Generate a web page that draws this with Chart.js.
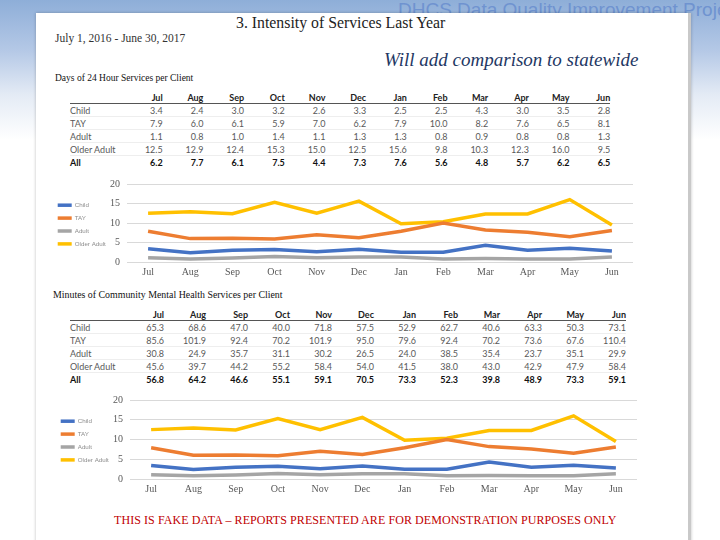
<!DOCTYPE html>
<html>
<head>
<meta charset="utf-8">
<script src="https://cdn.jsdelivr.net/npm/chart.js@4.4.0/dist/chart.umd.min.js"></script>
<style>
    html, body { margin: 0; padding: 0; }
    body {
        width: 720px; height: 540px; overflow: hidden; position: relative;
        background: linear-gradient(to bottom, #8eaed8 0px, #b4c8e6 50px, #e4ebf5 95px, #ffffff 140px);
        font-family: "Liberation Serif", "DejaVu Serif", serif;
    }
    .banner {
        position: absolute; left: 398px; top: -1px; font-family: "Liberation Sans", sans-serif;
        font-size: 19px; color: #6f93d0; white-space: nowrap;
    }
    .panel {
        position: absolute; left: 36px; top: 13px; width: 652px; height: 540px;
        background: #fff; border-right: 3px solid #c9c9c9; box-shadow: 0 0 3px rgba(0,0,0,0.25);
    }
    .txt { position: absolute; white-space: nowrap; }
    table.datos {
        position: absolute; border-collapse: collapse; font-family: "Lato", "Liberation Sans", sans-serif;
        font-size: 9px; color: #595959; table-layout: fixed;
    }
    table.datos th { font-weight: bold; color: #222; text-align: right; padding: 0; height: 12px; border-bottom: 1px solid #555; }
    table.datos td { text-align: right; padding: 0; height: 12px; border-bottom: 1px solid #eee; }
    table.datos td.lbl, table.datos th.lbl { text-align: left; }
    table.datos tr.all td { font-weight: bold; color: #111; border-bottom: none; }
    .chart { position: absolute; }
</style>
</head>
<body>
<div class="banner">DHCS Data Quality Improvement Project</div>
<div class="panel"></div>
<div class="txt" style="left:236px; top:14px; font-size:15.8px; color:#222;">3. Intensity of Services Last Year</div>
<div class="txt" style="left:55px; top:32px; font-size:11.5px; color:#333;">July 1, 2016 - June 30, 2017</div>
<div class="txt" style="left:384px; top:49px; font-size:19px; font-style:italic; color:#1f3864;">Will add comparison to statewide</div>
<div class="txt" style="left:55px; top:73px; font-size:9.5px; color:#111;">Days of 24 Hour Services per Client</div>
<table class="datos" id="tabla1" style="left:70px; top:91px;"></table>
<div class="chart" style="left:51px; top:171px; width:589px; height:111px;"><canvas id="chart1"></canvas></div>
<div class="txt" style="left:53px; top:289px; font-size:9.9px; color:#111;">Minutes of Community Mental Health Services per Client</div>
<table class="datos" id="tabla2" style="left:70px; top:308px;"></table>
<div class="chart" style="left:54px; top:387px; width:590px; height:112px;"><canvas id="chart2"></canvas></div>
<div class="txt" style="left:114px; top:513px; font-size:12px; color:#c00000; letter-spacing:0.07px;">THIS IS FAKE DATA – REPORTS PRESENTED ARE FOR DEMONSTRATION PURPOSES ONLY</div>

<script>
const meses = ['Jul', 'Aug', 'Sep', 'Oct', 'Nov', 'Dec', 'Jan', 'Feb', 'Mar', 'Apr', 'May', 'Jun'];
const grupos = ['Child', 'TAY', 'Adult', 'Older Adult', 'All'];

// Days of 24 Hour Services per Client (tabla)
const diasChild = ['3.4', '2.4', '3.0', '3.2', '2.6', '3.3', '2.5', '2.5', '4.3', '3.0', '3.5', '2.8'];
const diasTAY = ['7.9', '6.0', '6.1', '5.9', '7.0', '6.2', '7.9', '10.0', '8.2', '7.6', '6.5', '8.1'];
const diasAdult = ['1.1', '0.8', '1.0', '1.4', '1.1', '1.3', '1.3', '0.8', '0.9', '0.8', '0.8', '1.3'];
const diasOlder = ['12.5', '12.9', '12.4', '15.3', '15.0', '12.5', '15.6', '9.8', '10.3', '12.3', '16.0', '9.5'];
const diasAll = ['6.2', '7.7', '6.1', '7.5', '4.4', '7.3', '7.6', '5.6', '4.8', '5.7', '6.2', '6.5'];

// Minutes of Community Mental Health Services per Client (tabla)
const minChild = ['65.3', '68.6', '47.0', '40.0', '71.8', '57.5', '52.9', '62.7', '40.6', '63.3', '50.3', '73.1'];
const minTAY = ['85.6', '101.9', '92.4', '70.2', '101.9', '95.0', '79.6', '92.4', '70.2', '73.6', '67.6', '110.4'];
const minAdult = ['30.8', '24.9', '35.7', '31.1', '30.2', '26.5', '24.0', '38.5', '35.4', '23.7', '35.1', '29.9'];
const minOlder = ['45.6', '39.7', '44.2', '55.2', '58.4', '54.0', '41.5', '38.0', '43.0', '42.9', '47.9', '58.4'];
const minAll = ['56.8', '64.2', '46.6', '55.1', '59.1', '70.5', '73.3', '52.3', '39.8', '48.9', '73.3', '59.1'];

// Valores de las lineas
const lineaChild = [3.4, 2.4, 3.0, 3.2, 2.6, 3.3, 2.5, 2.5, 4.3, 3.0, 3.5, 2.8];
const lineaTAY = [7.9, 6.0, 6.1, 5.9, 7.0, 6.2, 7.9, 10.0, 8.2, 7.6, 6.5, 8.1];
const lineaAdult = [1.1, 0.8, 1.0, 1.4, 1.1, 1.3, 1.3, 0.8, 0.9, 0.8, 0.8, 1.3];
const lineaOlder = [12.5, 12.9, 12.4, 15.3, 12.5, 15.6, 9.8, 10.3, 12.3, 12.3, 16.0, 9.5];
const ticksY = [0, 5, 10, 15, 20];

const colores = ['#4472c4', '#ed7d31', '#a5a5a5', '#ffc000'];

function construirTabla(id, filas, anchoCol) {
    const tabla = document.getElementById(id);
    let html = '<colgroup><col style="width:52px">' + meses.map(() => `<col style="width:${anchoCol}px">`).join('') + '</colgroup>';
    html += '<tr><th class="lbl"></th>' + meses.map(m => `<th>${m}</th>`).join('') + '</tr>';
    filas.forEach((fila, i) => {
        const cls = grupos[i] === 'All' ? ' class="all"' : '';
        html += `<tr${cls}><td class="lbl">${grupos[i]}</td>` + fila.map(v => `<td>${v}</td>`).join('') + '</tr>';
    });
    tabla.innerHTML = html;
}

construirTabla('tabla1', [diasChild, diasTAY, diasAdult, diasOlder, diasAll], 40.7);
construirTabla('tabla2', [minChild, minTAY, minAdult, minOlder, minAll], 42);

function crearGrafico(id) {
    const series = [lineaChild, lineaTAY, lineaAdult, lineaOlder];
    new Chart(document.getElementById(id), {
        type: 'line',
        data: {
            labels: meses,
            datasets: series.map((datos, i) => ({
                label: grupos[i],
                data: datos,
                borderColor: colores[i],
                backgroundColor: colores[i],
                borderWidth: 3.5,
                pointRadius: 0,
                pointStyle: 'line',
                tension: 0
            }))
        },
        options: {
            responsive: true,
            maintainAspectRatio: false,
            animation: false,
            layout: { padding: { top: 7, right: 7, bottom: 0, left: 0 } },
            plugins: {
                legend: {
                    display: true,
                    position: 'left',
                    align: 'start',
                    maxWidth: 56,
                    // titulo vacio: solo empuja la leyenda hacia abajo
                    title: { display: true, text: '', font: { size: 7 }, padding: { top: 0, bottom: 9 } },
                    labels: {
                        usePointStyle: true,
                        pointStyleWidth: 14,
                        boxHeight: 2,
                        padding: 6.7,
                        color: '#8c8c8c',
                        font: { family: 'Liberation Sans', size: 6.2 }
                    }
                },
                tooltip: { enabled: false }
            },
            scales: {
                x: {
                    offset: true,
                    grid: { display: false, drawTicks: false },
                    border: { display: false },
                    ticks: { color: '#595959', font: { family: 'Liberation Serif', size: 10 }, padding: 4 }
                },
                y: {
                    min: 0,
                    max: 20,
                    afterBuildTicks: axis => { axis.ticks = ticksY.map(v => ({ value: v })); },
                    afterFit: axis => { axis.width = 20; },
                    grid: { color: '#d9d9d9', drawTicks: false },
                    border: { display: false },
                    ticks: { color: '#595959', font: { family: 'Liberation Serif', size: 10 }, padding: 7 }
                }
            }
        }
    });
}

crearGrafico('chart1');
crearGrafico('chart2');
</script>
</body>
</html>
